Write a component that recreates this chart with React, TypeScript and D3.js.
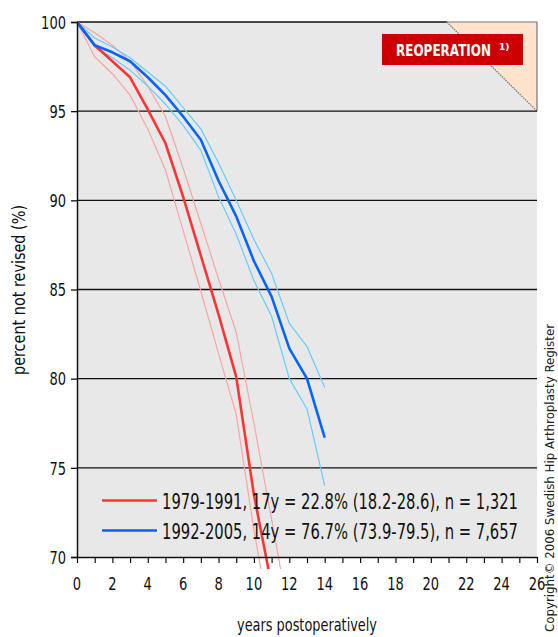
import React, { useEffect, useRef } from 'react'
import { select, scaleLinear, line, axisLeft, axisBottom, range } from 'd3'

// years on the x axis where the curves have a knot
const years = [0, 1, 2, 3, 4, 5, 6, 7, 8, 9, 10, 11, 12, 13, 14]

// 1979-1991 (red)
const oldMain = [100, 98.7, 97.8, 96.9, 95.1, 93.2, 90.2, 86.9, 83.6, 80.1, 73.5, 68.4]
const oldLow = [100, 98.05, 97.1, 95.9, 94.0, 91.7, 88.3, 84.9, 81.4, 78.0, 71.5, 66.0]
const oldHigh = [100, 99.4, 98.7, 97.8, 96.4, 94.7, 91.8, 88.7, 85.6, 82.6, 77.5, 72.1, 66.6]

// 1992-2005 (blue)
const newMain = [100, 98.7, 98.3, 97.8, 96.9, 95.9, 94.7, 93.4, 91.1, 89.1, 86.6, 84.6, 81.7, 80.0, 76.7]
const newLow = [100, 98.6, 98.0, 97.3, 96.4, 95.4, 94.2, 92.8, 90.2, 88.1, 85.5, 83.5, 80.0, 78.3, 74.0]
const newHigh = [100, 99.1, 98.6, 98.0, 97.2, 96.4, 95.2, 94.0, 92.1, 90.0, 87.8, 85.9, 83.1, 81.8, 79.5]

const yTicks = [70, 75, 80, 85, 90, 95, 100]
const xLabels = range(0, 27, 2)

const legendLabels = [
    '1979-1991, 17y = 22.8% (18.2-28.6), n = 1,321',
    '1992-2005, 14y = 76.7% (73.9-79.5), n = 7,657',
]

const FONT = "'DejaVu Sans', sans-serif"

export default function App() {

    const chart = useRef(null)

    const width = 558
    const height = 637
    const margin = ({ top: 22, right: 21, bottom: 80, left: 77 })

    const x = scaleLinear().domain([0, 26]).range([margin.left, width - margin.right])
    const y = scaleLinear().domain([70, 100]).range([height - margin.bottom, margin.top])

    const drawChart = svg => {
        svg.selectAll('*').remove()
        svg.style('font-family', FONT)

        const x0 = x(0), x1 = x(26), yTop = y(100), yBot = y(70)

        // grey panel
        svg.append('rect')
            .attr('x', x0).attr('y', yTop)
            .attr('width', x1 - x0).attr('height', yBot - yTop)
            .attr('fill', '#e8e8e8')

        // peach corner
        const cx = x(20.9), cy = y(95)
        svg.append('path')
            .attr('d', `M${cx},${yTop}L${x1},${yTop}L${x1},${cy}Z`)
            .attr('fill', '#ffe3cc')
        svg.append('path')
            .attr('d', `M${cx},${yTop}L${x1},${cy}`)
            .attr('stroke', '#777').attr('stroke-width', 1.2)
            .attr('stroke-dasharray', '1.5,1').attr('fill', 'none')
        svg.append('path')
            .attr('d', `M${cx},${yTop}L${x1},${yTop}L${x1},${cy}`)
            .attr('stroke', '#777').attr('stroke-width', 1.2).attr('fill', 'none')

        // grid lines
        svg.append('g')
            .selectAll('line')
            .data(yTicks.filter(d => d > 70 && d < 100))
            .join('line')
            .attr('x1', x0).attr('x2', x1)
            .attr('y1', d => y(d)).attr('y2', d => y(d))
            .attr('stroke', '#111').attr('stroke-width', 1.3)
        svg.append('line')
            .attr('x1', x0).attr('x2', cx)
            .attr('y1', yTop).attr('y2', yTop)
            .attr('stroke', '#111').attr('stroke-width', 1.3)

        // reoperation tag
        svg.append('rect')
            .attr('x', 382).attr('y', 34).attr('width', 141).attr('height', 31)
            .attr('fill', '#cc0000')
        const tag = svg.append('text')
            .attr('x', 396).attr('y', 56)
            .attr('fill', '#fff').attr('font-weight', 'bold')
        tag.append('tspan')
            .attr('font-size', 16)
            .attr('textLength', 95).attr('lengthAdjust', 'spacingAndGlyphs')
            .text('REOPERATION')
        tag.append('tspan')
            .attr('x', 499).attr('dy', -6)
            .attr('font-size', 9)
            .text('1)')

        // curves
        svg.append('clipPath').attr('id', 'clip')
            .append('rect').attr('x', x0).attr('y', 0).attr('width', x1 - x0).attr('height', yBot + 12)

        const getLine = line().x((d, i) => x(years[i])).y(d => y(d))
        const curves = [
            { data: oldLow, color: '#ffa3a3', w: 1.2 },
            { data: oldHigh, color: '#ffa3a3', w: 1.2 },
            { data: newLow, color: '#66ccff', w: 1.2 },
            { data: newHigh, color: '#66ccff', w: 1.2 },
            { data: oldMain, color: '#ff3333', w: 2.6 },
            { data: newMain, color: '#0066ff', w: 2.6 },
        ]
        svg.append('g').attr('clip-path', 'url(#clip)')
            .selectAll('path')
            .data(curves)
            .join('path')
            .attr('fill', 'none')
            .attr('stroke', d => d.color)
            .attr('stroke-width', d => d.w)
            .attr('stroke-linejoin', 'round')
            .attr('d', d => getLine(d.data))

        // axes
        svg.append('g')
            .attr('transform', `translate(0,${yBot})`)
            .call(axisBottom(x).tickValues(range(0, 27, 1)).tickSize(6).tickSizeOuter(0).tickFormat(''))
            .call(g => g.select('.domain').attr('stroke', '#111').attr('stroke-width', 1.5))
            .call(g => g.selectAll('.tick line').attr('stroke', '#111').attr('stroke-width', 1.2))

        svg.append('g')
            .selectAll('text')
            .data(xLabels)
            .join('text')
            .attr('x', d => x(d)).attr('y', yBot + 33)
            .attr('text-anchor', 'middle')
            .attr('font-size', 18)
            .attr('fill', '#111')
            .attr('textLength', d => String(d).length * 8.3)
            .attr('lengthAdjust', 'spacingAndGlyphs')
            .text(d => d)

        svg.append('g')
            .attr('transform', `translate(${x0},0)`)
            .call(axisLeft(y).tickValues(yTicks).tickSize(6).tickPadding(5))
            .call(g => g.select('.domain').attr('stroke', '#111').attr('stroke-width', 1.5))
            .call(g => g.selectAll('.tick text').attr('font-size', 18).attr('fill', '#111')
                .attr('font-family', FONT).attr('dy', '0.35em')
                .attr('textLength', d => String(d).length * 8.3)
                .attr('lengthAdjust', 'spacingAndGlyphs'))
            .call(g => g.selectAll('.tick line').attr('stroke', '#111').attr('stroke-width', 1.3))

        // legend
        const legend = svg.append('g')
        legendLabels.forEach((label, i) => {
            const ly = 500.5 + i * 30
            legend.append('line')
                .attr('x1', 102).attr('x2', 157).attr('y1', ly).attr('y2', ly)
                .attr('stroke', i === 0 ? '#ff3333' : '#0066ff').attr('stroke-width', 2.6)
            legend.append('text')
                .attr('x', 162).attr('y', ly + 8)
                .attr('font-size', 21).attr('fill', '#111')
                .attr('textLength', 356).attr('lengthAdjust', 'spacingAndGlyphs')
                .text(label)
        })

        // axis titles
        svg.append('text')
            .attr('x', 307).attr('y', 631)
            .attr('text-anchor', 'middle').attr('font-size', 17).attr('fill', '#111')
            .attr('textLength', 140).attr('lengthAdjust', 'spacingAndGlyphs')
            .text('years postoperatively')
        svg.append('text')
            .attr('transform', 'translate(25,290) rotate(-90)')
            .attr('text-anchor', 'middle').attr('font-size', 17).attr('fill', '#111')
            .attr('textLength', 170).attr('lengthAdjust', 'spacingAndGlyphs')
            .text('percent not revised (%)')
        svg.append('text')
            .attr('transform', 'translate(554,632) rotate(-90)')
            .attr('font-size', 13).attr('fill', '#222')
            .attr('textLength', 308).attr('lengthAdjust', 'spacingAndGlyphs')
            .text('Copyright\u00a9 2006 Swedish Hip Arthroplasty Register')
    }

    useEffect(() => {
        drawChart(select(chart.current))
    }, [])

    return (
        <svg ref={chart} width={width} height={height}
            style={{ position: 'absolute', left: 0, top: 0, background: '#fff' }} />
    )
}
